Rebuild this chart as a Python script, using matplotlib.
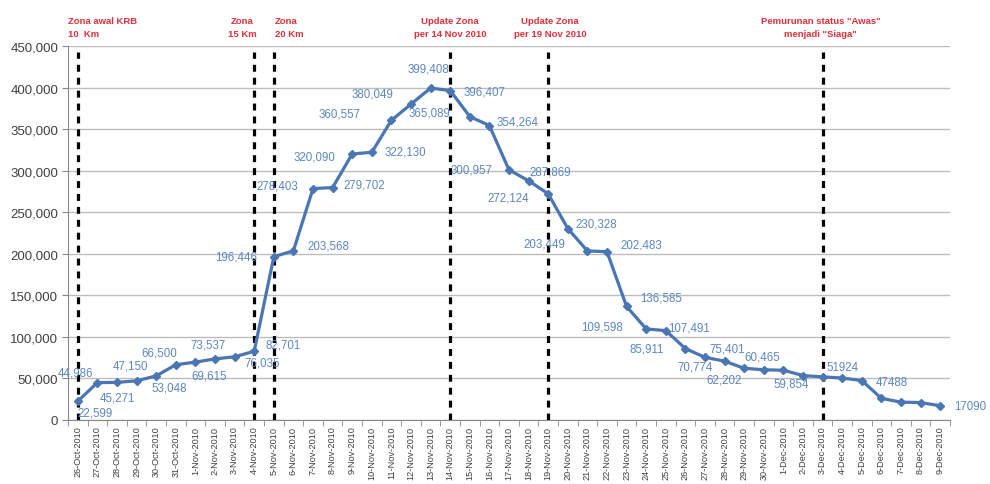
import matplotlib
matplotlib.use("Agg")
import matplotlib.pyplot as plt
from matplotlib.ticker import FuncFormatter, FixedLocator
import matplotlib.transforms as mtransforms

# ---------------- data ----------------
dates = ["26-Oct-2010", "27-Oct-2010", "28-Oct-2010", "29-Oct-2010", "30-Oct-2010", "31-Oct-2010"] + \
        [f"{d}-Nov-2010" for d in range(1, 31)] + \
        [f"{d}-Dec-2010" for d in range(1, 10)]

values = [22599, 44986, 45271, 47150, 53048, 66500,
          69615, 73537, 76035, 82701, 196446, 203568, 278403, 279702, 320090, 322130,
          360557, 380049, 399408, 396407, 365089, 354264, 300957, 287869, 272124, 230328,
          203449, 202483, 136585, 109598, 107491, 85911, 75401, 70774, 62202, 60465,
          59854, 53500, 51924, 50500, 47488, 26000, 21500, 21000, 17090]

point_labels = ["22,599", "44,986", "45,271", "47,150", "53,048", "66,500",
                "69,615", "73,537", "76,035", "82,701", "196,446", "203,568", "278,403", "279,702",
                "320,090", "322,130", "360,557", "380,049", "399,408", "396,407", "365,089",
                "354,264", "300,957", "287,869", "272,124", "230,328", "203,449", "202,483",
                "136,585", "109,598", "107,491", "85,911", "75,401", "70,774", "62,202", "60,465",
                "59,854", "", "51924", "", "47488", "", "", "", "17090"]

event_dates = ["26-Oct-2010", "4-Nov-2010", "5-Nov-2010", "14-Nov-2010", "19-Nov-2010", "3-Dec-2010"]

event_texts = ["Zona awal KRB\n10  Km", "Zona\n15 Km", "Zona\n20 Km",
               "Update Zona\nper 14 Nov 2010", "Update Zona\nper 19 Nov 2010",
               "Pemurunan status \"Awas\"\nmenjadi \"Siaga\""]

y_ticks = [0, 50000, 100000, 150000, 200000, 250000, 300000, 350000, 400000, 450000]

# ---------------- layout / style (pixel offsets of labels) ----------------
label_off_px = [(17, 11), (-22, -10), (0, 15), (-6, -15), (13, 12), (-17, -12),
                (14, 13), (-7, -14), (28, 6), (29, -7), (-38, 0), (35, -5), (-36, -3), (32, -3),
                (-38, 3), (34, -1), (-52, -7), (-39, -11), (-2, -20), (34, 1), (-40, -4),
                (28, -4), (-38, 0), (22, -9), (-40, 4), (28, -5), (-43, -7), (34, -7),
                (35, -9), (-44, -2), (23, -3), (-39, 0), (22, -9), (-29, 5), (-20, 11), (-2, -13),
                (8, 13), (0, 0), (20, -10), (0, 0), (30, 1), (0, 0), (0, 0), (0, 0), (30, 0)]

# (horizontal alignment, x shift in categories relative to the event line)
event_align = [("left", -0.5), ("center", -0.6), ("left", 0.05),
               ("center", 0.0), ("center", 0.1), ("center", -0.1)]

plt.rcParams['font.family'] = ['Liberation Sans', 'DejaVu Sans']
plt.rcParams['lines.scale_dashes'] = False

fig = plt.figure(figsize=(9.9, 4.85), dpi=100)
ax = fig.add_axes([68/990, 1 - 421/485, (950 - 68)/990, (421 - 47)/485])

x = list(range(len(dates)))
line_color = "#4a76b3"
label_color = "#5b87c5"

ax.set_xlim(-0.5, len(dates) - 0.5)
ax.set_ylim(0, 450000)

# gridlines
ax.yaxis.set_major_locator(FixedLocator(y_ticks))
ax.grid(axis='y', color="#bdbdbd", linewidth=1.0)
ax.set_axisbelow(True)

# event dashed lines
for ed in event_dates:
    xi = dates.index(ed)
    ax.plot([xi, xi], [0, 443000], color="black", linewidth=2.3,
            dashes=(5.0, 4.3), zorder=2, dash_capstyle='butt')

# main series
ax.plot(x, values, color=line_color, linewidth=2.3, marker='D', markersize=4.5,
        markerfacecolor=line_color, markeredgecolor=line_color, zorder=3)

# data labels
for xi, v, lab, (dx, dy) in zip(x, values, point_labels, label_off_px):
    if lab:
        ax.annotate(lab, (xi, v), xytext=(dx * 0.72, -dy * 0.72), textcoords='offset points',
                    ha='center', va='center', fontsize=8.3, color=label_color, zorder=4)

# event texts above plot
trans = mtransforms.blended_transform_factory(ax.transData, ax.transAxes)
for ed, txt, (ha, shift) in zip(event_dates, event_texts, event_align):
    xpos = dates.index(ed) + shift
    ax.text(xpos, 1.022, txt, transform=trans, ha=ha, va='bottom', multialignment=ha,
            fontsize=6.8, fontweight='bold', color="#e0303a", linespacing=1.5)

# axes styling
ax.yaxis.set_major_formatter(FuncFormatter(lambda v, p: f"{int(v):,}"))
ax.tick_params(axis='y', length=4, color="#888888", labelsize=9.5, labelcolor="#404040", pad=3)
ax.set_xticks(x)
ax.set_xticklabels(dates, rotation=90, fontsize=6.6, color="#404040")
ax.tick_params(axis='x', length=0, pad=4)
ax.set_xticks([i + 0.5 for i in range(-1, len(dates))], minor=True)
ax.tick_params(axis='x', which='minor', length=4, color="#888888")

for s in ['top', 'right']:
    ax.spines[s].set_visible(False)
ax.spines['left'].set_color("#888888")
ax.spines['bottom'].set_color("#888888")

fig.savefig("out.png", dpi=100)
